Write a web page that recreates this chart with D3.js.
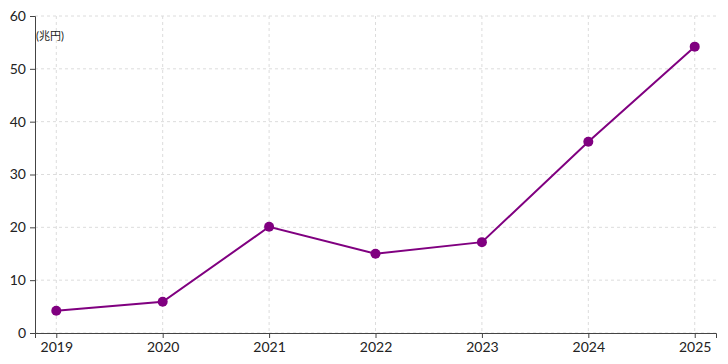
<!DOCTYPE html>
<html>
<head>
<meta charset="utf-8">
<script src="https://cdn.jsdelivr.net/npm/d3@7"></script>
<style>
  body { margin: 0; background: #fff; }
  svg { display: block; font-family: Lato, "Noto Sans CJK JP", sans-serif; }
</style>
</head>
<body>
<svg id="chart"></svg>
<script>
// data
var years = ['2019', '2020', '2021', '2022', '2023', '2024', '2025'];
var values = [4.2, 5.9, 20.1, 15.0, 17.2, 36.2, 54.2];
var yTicks = [0, 10, 20, 30, 40, 50, 60];
var unitLabel = '(兆円)';

var canvasWidth = 728;
var canvasHeight = 364;
var margin = { top: 16, right: 12, bottom: 31, left: 35 };
var width = canvasWidth - margin.left - margin.right;
var height = canvasHeight - margin.top - margin.bottom;

var svg = d3.select('#chart')
    .attr('width', canvasWidth)
    .attr('height', canvasHeight);

var g = svg.append('g')
    .attr('transform', 'translate(' + margin.left + ',' + margin.top + ')');

var xScale = d3.scalePoint()
    .domain(years)
    .range([0, width])
    .padding(0.2);

var yScale = d3.scaleLinear()
    .domain([0, 60])
    .range([height, 0]);

// grid
g.append('g').selectAll('line')
    .data(yTicks)
    .enter().append('line')
    .attr('x1', 0).attr('x2', width)
    .attr('y1', function (d) { return yScale(d); })
    .attr('y2', function (d) { return yScale(d); })
    .attr('stroke', '#dcdcdc')
    .attr('stroke-dasharray', '3,3');

g.append('g').selectAll('line')
    .data(years)
    .enter().append('line')
    .attr('x1', function (d) { return xScale(d); })
    .attr('x2', function (d) { return xScale(d); })
    .attr('y1', 0).attr('y2', height)
    .attr('stroke', '#dcdcdc')
    .attr('stroke-dasharray', '3,3');

// axes
var xAxis = g.append('g')
    .attr('transform', 'translate(0,' + height + ')')
    .call(d3.axisBottom(xScale).tickSizeOuter(0).tickSize(5).tickPadding(4));

var yAxis = g.append('g')
    .call(d3.axisLeft(yScale).tickValues(yTicks).tickSizeOuter(0).tickSize(5).tickPadding(4));

[xAxis, yAxis].forEach(function (ax) {
    ax.selectAll('path, line').attr('stroke', '#444');
    ax.selectAll('text')
        .attr('fill', '#222')
        .style('font-size', '14px')
        .style('font-family', 'Lato, sans-serif');
});

// unit label
g.append('text')
    .attr('x', 1)
    .attr('y', 24)
    .attr('fill', '#222')
    .style('font-size', '11px')
    .text(unitLabel);

// line + markers
var line = d3.line()
    .x(function (d, i) { return xScale(years[i]); })
    .y(function (d) { return yScale(d); });

g.append('path')
    .datum(values)
    .attr('d', line)
    .attr('fill', 'none')
    .attr('stroke', '#800080')
    .attr('stroke-width', 2);

g.selectAll('circle')
    .data(values)
    .enter().append('circle')
    .attr('cx', function (d, i) { return xScale(years[i]); })
    .attr('cy', function (d) { return yScale(d); })
    .attr('r', 5)
    .attr('fill', '#800080');
</script>
</body>
</html>
